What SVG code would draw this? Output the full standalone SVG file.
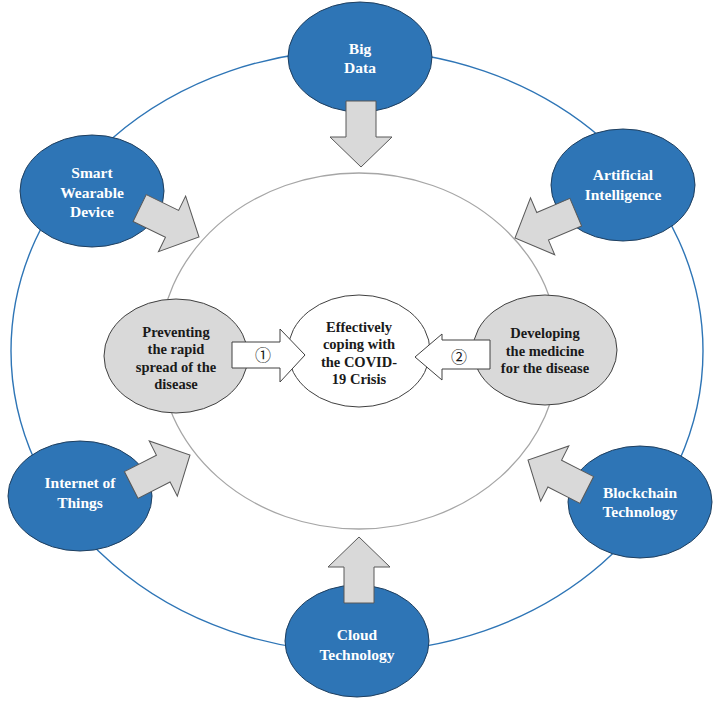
<svg xmlns="http://www.w3.org/2000/svg" width="714" height="703" viewBox="0 0 714 703">
<style>
.blue{fill:#2E75B6;stroke:#1F3F5F;stroke-width:1}
.grayn{fill:#D9D9D9;stroke:#404040;stroke-width:1}
.white{fill:#FFFFFF;stroke:#404040;stroke-width:1}
.arr{fill:#D9D9D9;stroke:#595959;stroke-width:1;stroke-linejoin:miter}
.warr{fill:#FFFFFF;stroke:#404040;stroke-width:1}
.tw{font-family:"Liberation Serif","Times New Roman",serif;font-weight:bold;font-size:15.5px;fill:#FFFFFF;text-anchor:middle}
.tb{font-family:"Liberation Serif","Times New Roman",serif;font-weight:bold;font-size:14.5px;fill:#1A1A1A;text-anchor:middle}
.num{font-family:"Noto Sans CJK SC","DejaVu Sans",sans-serif;font-size:16px;fill:#1A1A1A;text-anchor:middle}
</style>
<defs>
<polygon id="bigarrow" points="-66,-15 -30,-15 -30,-31 0,0 -30,31 -30,15 -66,15"/>
</defs>
<rect width="714" height="703" fill="#FFFFFF"/>
<g id="rings">
<ellipse cx="357" cy="351" rx="346" ry="301" fill="none" stroke="#2E75B6" stroke-width="1.4"/>
<ellipse cx="359" cy="351" rx="200" ry="178" fill="none" stroke="#A6A6A6" stroke-width="1.3"/>
</g>
<g id="big-data"><ellipse class="blue" cx="360" cy="57" rx="72" ry="55"/><text class="tw" x="360" y="54">Big</text><text class="tw" x="360" y="73">Data</text></g>
<g id="smart-wearable"><ellipse class="blue" cx="92" cy="191" rx="72" ry="56"/><text class="tw" x="92" y="178">Smart</text><text class="tw" x="92" y="198">Wearable</text><text class="tw" x="92" y="217">Device</text></g>
<g id="artificial-intelligence"><ellipse class="blue" cx="623" cy="185" rx="72" ry="56"/><text class="tw" x="623" y="180">Artificial</text><text class="tw" x="623" y="200">Intelligence</text></g>
<g id="internet-of-things"><ellipse class="blue" cx="80" cy="496" rx="72" ry="55"/><text class="tw" x="80" y="488">Internet of</text><text class="tw" x="80" y="508">Things</text></g>
<g id="blockchain"><ellipse class="blue" cx="640" cy="502" rx="72" ry="56"/><text class="tw" x="640" y="498">Blockchain</text><text class="tw" x="640" y="517">Technology</text></g>
<g id="cloud"><ellipse class="blue" cx="357" cy="641" rx="72" ry="56"/><text class="tw" x="357" y="640">Cloud</text><text class="tw" x="357" y="660">Technology</text></g>
<g id="preventing"><ellipse class="grayn" cx="176" cy="356" rx="72" ry="57"/><text class="tb" x="176" y="337">Preventing</text><text class="tb" x="176" y="354">the rapid</text><text class="tb" x="176" y="372">spread of the</text><text class="tb" x="176" y="389">disease</text></g>
<g id="developing"><ellipse class="grayn" cx="545" cy="350" rx="72" ry="55"/><text class="tb" x="545" y="338">Developing</text><text class="tb" x="545" y="356">the medicine</text><text class="tb" x="545" y="373">for the disease</text></g>
<g id="center"><ellipse class="white" cx="359" cy="351" rx="71" ry="56"/><text class="tb" x="359" y="332">Effectively</text><text class="tb" x="359" y="349">coping with</text><text class="tb" x="359" y="367">the COVID-</text><text class="tb" x="359" y="384">19 Crisis</text></g>
<g id="connectors">
<use href="#bigarrow" class="arr" transform="translate(361,167) rotate(90)"/>
<use href="#bigarrow" class="arr" transform="translate(359,537) rotate(-90)"/>
<use href="#bigarrow" class="arr" transform="translate(199,237) rotate(26)"/>
<use href="#bigarrow" class="arr" transform="translate(515,238) rotate(157)"/>
<use href="#bigarrow" class="arr" transform="translate(190,455) rotate(-27)"/>
<use href="#bigarrow" class="arr" transform="translate(528,460) rotate(207)"/>
<polygon class="warr" points="232,342 280,342 280,329 305,355 280,382 280,368 232,368"/>
<polygon class="warr" points="490,340 442,340 442,334 415,357 442,380 442,369 490,369"/>
<text class="num" x="263" y="361">①</text>
<text class="num" x="459" y="363">②</text>
</g>
</svg>
